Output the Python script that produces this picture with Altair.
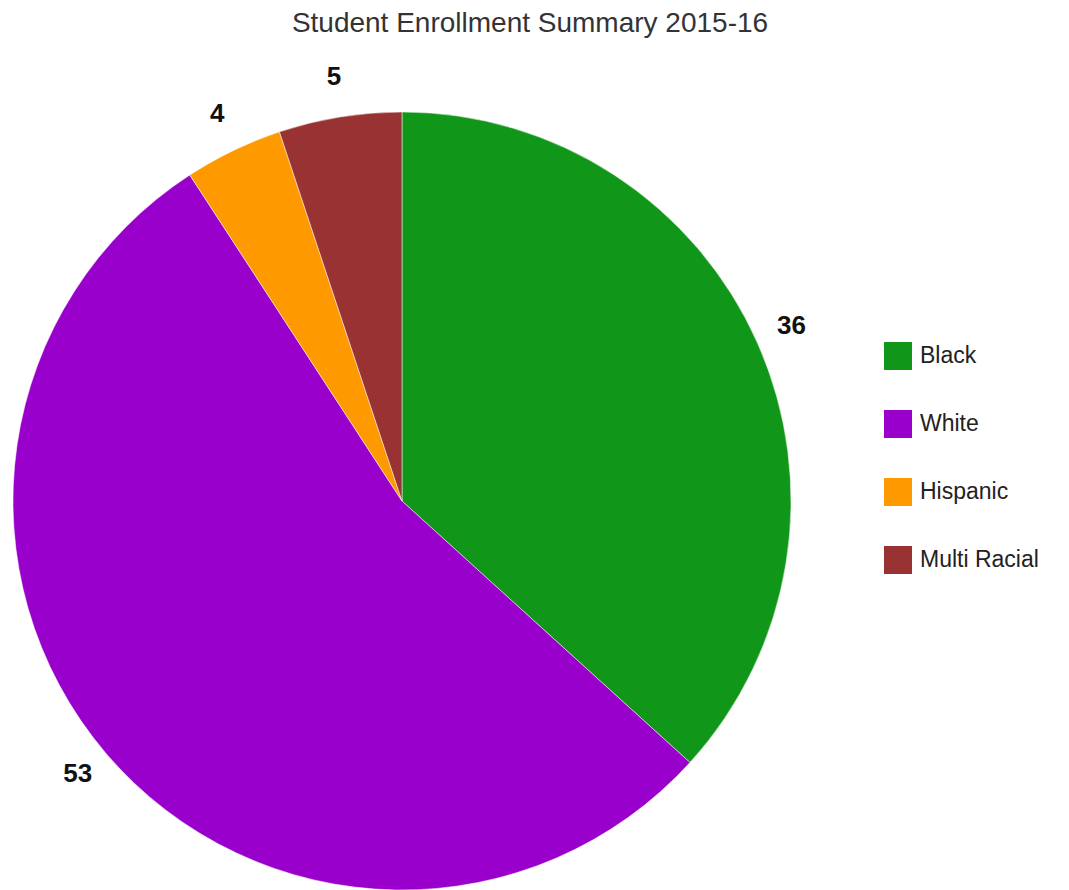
import altair as alt
import pandas as pd

categories = ["Black", "White", "Hispanic", "Multi Racial"]
values = [36, 53, 4, 5]
colors = ["#109618", "#9900cc", "#ff9900", "#993333"]
order = [0, 1, 2, 3]

df = pd.DataFrame({"category": categories, "value": values, "order": order})

W, H = 1053, 874
CX, CY = 394, 493
R = 389

color = alt.Color(
    "category:N",
    scale=alt.Scale(domain=categories, range=colors),
    sort=categories,
    legend=alt.Legend(
        title=None,
        orient="none",
        legendX=876,
        legendY=334,
        symbolType="square",
        symbolSize=784,
        symbolStrokeWidth=0,
        labelFontSize=23,
        labelFont="Liberation Sans",
        labelColor="#222222",
        labelOffset=8,
        rowPadding=40,
    ),
)

base = alt.Chart(df).encode(
    theta=alt.Theta("value:Q", stack=True),
    order=alt.Order("order:Q"),
)

pie = base.mark_arc(outerRadius=R, stroke="white", strokeWidth=0.5).encode(
    color=color,
    x=alt.value(CX),
    y=alt.value(CY),
)

labels = base.mark_text(
    radius=426, font="Liberation Sans", fontSize=26, fontWeight="bold", color="#111111"
).encode(
    text="value:Q",
    x=alt.value(CX),
    y=alt.value(CY - 3),
)

title = alt.Chart(pd.DataFrame({"t": ["Student Enrollment Summary 2015-16"]})).mark_text(
    font="Liberation Sans", fontSize=28, color="#333333", baseline="middle"
).encode(text="t:N", x=alt.value(522), y=alt.value(16))

chart = (
    alt.layer(pie, labels, title)
    .properties(width=W, height=H, padding=0, background="white")
    .configure_view(stroke=None, strokeWidth=0)
)

chart.save("out.html", embed_options={"renderer": "svg", "actions": False})
